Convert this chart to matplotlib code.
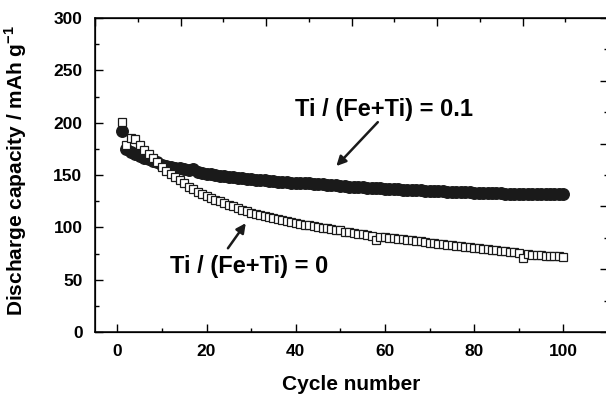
import numpy as np
import matplotlib
matplotlib.use("Agg")
import matplotlib.pyplot as plt
from matplotlib.ticker import MultipleLocator

# Schrift wie im Original (Arial fett -> Liberation Sans)
plt.rcParams['font.family'] = 'Liberation Sans'
plt.rcParams['font.weight'] = 'bold'
plt.rcParams['axes.labelweight'] = 'bold'
plt.rcParams['mathtext.fontset'] = 'custom'
plt.rcParams['mathtext.rm'] = 'Liberation Sans:bold'
plt.rcParams['mathtext.bf'] = 'Liberation Sans:bold'

# Daten
cycles = list(range(1, 101))

cap_ti0 = [201, 179, 185, 184, 179, 174, 170, 166, 162, 158,
           154, 151, 148, 145, 142, 139, 137, 134, 132, 130,
           128, 126, 125, 123, 121, 120, 118, 117, 116, 114,
           113, 112, 111, 110, 109, 108, 107, 106, 105, 104,
           103, 102.5, 102, 101, 100, 99.5, 99, 98, 97.5, 97,
           96, 95.5, 95, 94, 93.5, 93, 92, 87.5, 91, 90.5,
           90, 89.5, 89, 88.5, 88, 87.5, 87, 86.5, 86, 85.5,
           85, 84.5, 84, 83.5, 83, 82.5, 82, 81.5, 81, 80.5,
           80, 79.5, 79, 78.5, 78, 77.5, 77, 76.5, 76, 75.5,
           71, 74.5, 74, 73.5, 73.5, 73, 73, 72.5, 72.5, 72]

cap_ti01 = [192, 175, 172, 170, 168, 166, 165, 163, 162, 160,
            159, 158, 157, 156.5, 156, 155, 155.5, 153, 152, 151,
            150.5, 150, 149.5, 149, 148.5, 148, 147.5, 147, 146.5, 146,
            145.5, 145, 145, 144.5, 144, 143.5, 143, 143, 142.5, 142.5,
            142.5, 142, 142, 141.5, 141, 141, 140.5, 140.5, 140, 139.5,
            139.5, 139, 139, 138.5, 138.5, 138, 138, 137.5, 137.5, 137,
            137, 136.5, 136.5, 136, 136, 135.5, 135.5, 135.5, 135, 135,
            134.5, 134.5, 134.5, 134, 134, 134, 133.5, 133.5, 133.5, 133,
            133, 133, 132.5, 132.5, 132.5, 132.5, 132, 132, 132, 132,
            131.5, 131.5, 131.5, 131.5, 131.5, 131.5, 131.5, 131.5, 131.5, 131.5]

label_ti0 = 'Ti / (Fe+Ti) = 0'
label_ti01 = 'Ti / (Fe+Ti) = 0.1'

fig = plt.figure(figsize=(6.06, 3.95), dpi=100)
ax = fig.add_axes([95 / 606, 1 - 332 / 395, 513 / 606, 314 / 395])

ax.plot(cycles, cap_ti01, 'o', ms=8.3, mfc='#1a1a1a', mec='#1a1a1a', zorder=2)
ax.plot(cycles, cap_ti0, 's', ms=6.3, mfc='white', mec='#1a1a1a', mew=0.9, zorder=3)

ax.set_xlim(-5, 110)
ax.set_ylim(0, 300)
ax.xaxis.set_major_locator(MultipleLocator(20))
ax.xaxis.set_minor_locator(MultipleLocator(10))
ax.yaxis.set_major_locator(MultipleLocator(50))
ax.yaxis.set_minor_locator(MultipleLocator(25))
ax.tick_params(which='both', direction='in', top=False, right=False, width=1.0)
ax.tick_params(which='major', length=6)
ax.tick_params(which='minor', length=3)
ax.tick_params(axis='x', pad=9, labelsize=12.5)
ax.tick_params(axis='y', pad=9, labelsize=12.5)
for s in ax.spines.values():
    s.set_linewidth(1.1)

ax.set_xlabel('Cycle number', fontsize=15, labelpad=11)
ax.set_ylabel('Discharge capacity / mAh g$^{-1}$', fontsize=15)
ax.yaxis.set_label_coords(-0.128, 0.515)

# Oben/rechts eigene Striche (wie im Original, ohne Beschriftung)
axt = ax.twiny()
axt.set_xlim(0, 6)
axt.xaxis.set_major_locator(MultipleLocator(1))
axt.xaxis.set_minor_locator(MultipleLocator(0.5))
axt.tick_params(which='both', direction='in', labeltop=False, width=1.0)
axt.tick_params(which='major', length=6)
axt.tick_params(which='minor', length=3)
axr = ax.twinx()
axr.set_ylim(0, 5)
axr.yaxis.set_major_locator(MultipleLocator(1))
axr.yaxis.set_minor_locator(MultipleLocator(0.5))
axr.tick_params(which='both', direction='in', labelright=False, width=1.0)
axr.tick_params(which='major', length=6)
axr.tick_params(which='minor', length=3)

# Beschriftungen und Pfeile
pfeil = dict(arrowstyle='-|>', color='#1a1a1a', lw=1.8, mutation_scale=14,
             shrinkA=0, shrinkB=0)
ax.text(59.7, 213, label_ti01, ha='center', va='center', fontsize=17)
ax.annotate('', xy=(49.1, 158.5), xytext=(58.4, 200.5), arrowprops=pfeil)
ax.text(29.6, 63, label_ti0, ha='center', va='center', fontsize=17)
ax.annotate('', xy=(28.8, 104), xytext=(24.8, 80), arrowprops=pfeil)

fig.savefig('out.png', dpi=100)
